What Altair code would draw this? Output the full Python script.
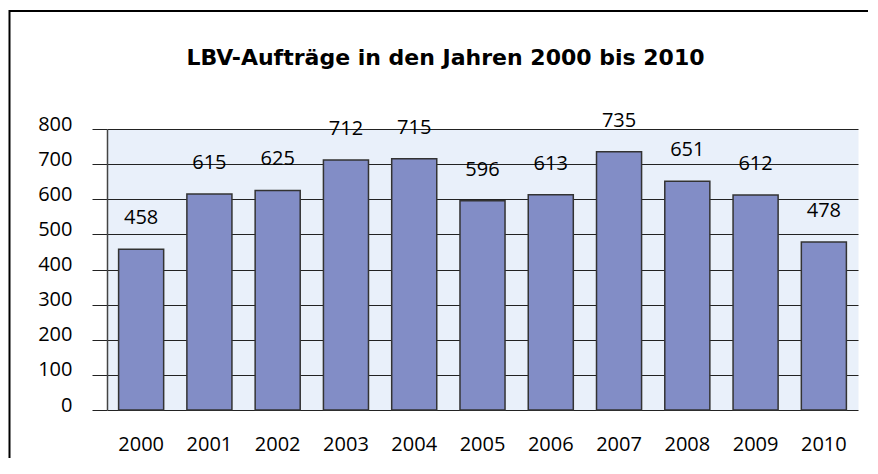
import altair as alt
import pandas as pd

years = ["2000", "2001", "2002", "2003", "2004", "2005", "2006", "2007", "2008", "2009", "2010"]
orders = [458, 615, 625, 712, 715, 596, 613, 735, 651, 612, 478]
y_ticks = [0, 100, 200, 300, 400, 500, 600, 700, 800]
title_text = "LBV-Aufträge in den Jahren 2000 bis 2010"

df = pd.DataFrame({"Jahr": years, "Auftraege": orders})

FONT = "Open Sans"

x_enc = alt.X(
    "Jahr:N",
    sort=years,
    scale=alt.Scale(paddingInner=0.34, paddingOuter=0.17),
    axis=alt.Axis(
        title=None, labelAngle=0, ticks=False, domain=False, grid=False,
        labelPadding=34, labelBaseline="middle", labelFontSize=20,
        labelFont=FONT, labelColor="black",
    ),
)
y_enc = alt.Y(
    "Auftraege:Q",
    scale=alt.Scale(domain=[0, 800], nice=False),
    axis=alt.Axis(
        title=None, values=y_ticks, tickSize=15, tickColor="#222",
        grid=True, gridColor="#222", gridOpacity=1, gridWidth=1,
        labelPadding=20, labelOffset=-5, labelFontSize=20, labelFont=FONT,
        labelColor="black", domainColor="#444", domainWidth=1.5,
    ),
)

bars = alt.Chart(df).mark_bar(color="#828DC6", stroke="#333", strokeWidth=1.5).encode(
    x=x_enc, y=y_enc
)
labels = alt.Chart(df).mark_text(
    baseline="middle", dy=-31, fontSize=20, font=FONT, color="black"
).encode(x=x_enc, y=y_enc, text="Auftraege:Q")

frame_data = alt.Data(values=[{"k": 1}])
border_top = alt.Chart(frame_data).mark_rule(color="black", strokeWidth=2).encode(
    x=alt.value(-98), x2=alt.value(765), y=alt.value(-118)
)
border_left = alt.Chart(frame_data).mark_rule(color="black", strokeWidth=2).encode(
    x=alt.value(-97.5), y=alt.value(-119), y2=alt.value(340)
)

chart = (
    alt.layer(bars, labels, border_top, border_left)
    .properties(
        width=751,
        height=281,
        autosize=alt.AutoSizeParams(type="none"),
        padding={"left": 99, "top": 121, "right": 10, "bottom": 48},
        title=alt.TitleParams(
            title_text, fontSize=22, font="DejaVu Sans", fontWeight="bold", color="black",
            anchor="middle", frame="group", dx=-37, offset=0, dy=78,
            baseline="alphabetic",
        ),
    )
    .configure_view(fill="#E9F0FA", stroke="transparent")
)

chart.save("out.html", embed_options={"renderer": "svg", "actions": False})
